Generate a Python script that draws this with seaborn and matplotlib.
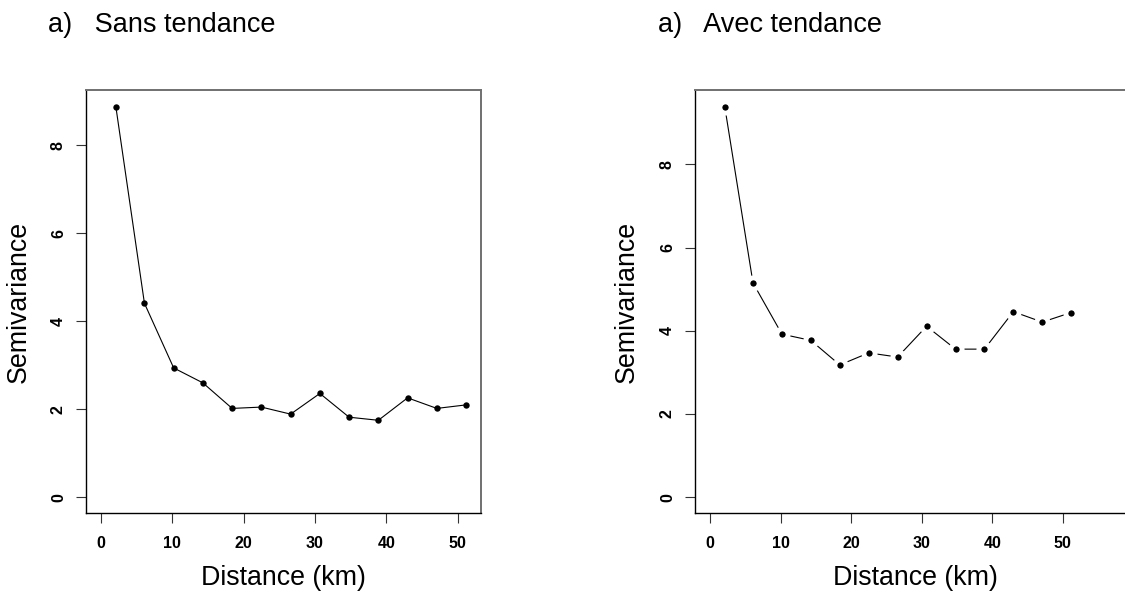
import numpy as np
import pandas as pd
import matplotlib
matplotlib.use('Agg')
import matplotlib.pyplot as plt
import seaborn as sns

# semivariogramme empirique, lag en km
lag_km = [2.1, 6.1, 10.2, 14.3, 18.4, 22.5, 26.6, 30.7, 34.8, 38.9, 43.0, 47.1, 51.2]
semivar_sans = [8.87, 4.41, 2.94, 2.60, 2.02, 2.05, 1.89, 2.36, 1.82, 1.75, 2.26, 2.02, 2.10]
semivar_avec = [9.38, 5.15, 3.92, 3.77, 3.18, 3.47, 3.37, 4.11, 3.56, 3.56, 4.46, 4.21, 4.44]
titles = ['a)   Sans tendance', 'a)   Avec tendance']
x_ticks = [0, 10, 20, 30, 40, 50]
y_ticks = [0, 2, 4, 6, 8]

sns.set_theme(style='white')
plt.rcParams['font.family'] = ['Liberation Sans', 'DejaVu Sans']
plt.rcParams['text.color'] = 'black'
plt.rcParams['axes.labelcolor'] = 'black'
plt.rcParams['xtick.color'] = 'black'
plt.rcParams['ytick.color'] = 'black'

W, H = 1125, 594
fig = plt.figure(figsize=(W / 100, H / 100), dpi=100)

ax1 = fig.add_axes([86.3 / W, 1 - 513.3 / H, 394.4 / W, 423 / H])
ax2 = fig.add_axes([695.3 / W, 1 - 513.3 / H, 440 / W, 423 / H])

df1 = pd.DataFrame({'dist': lag_km, 'sv': semivar_sans})
df2 = pd.DataFrame({'dist': lag_km, 'sv': semivar_avec})

# type="o" a gauche
sns.lineplot(data=df1, x='dist', y='sv', ax=ax1, color='black', linewidth=0.8,
             marker='o', markersize=4.6, markeredgewidth=0, markerfacecolor='black')
# type="b" a droite : trou autour des points
sns.lineplot(data=df2, x='dist', y='sv', ax=ax2, color='black', linewidth=0.8,
             marker='o', markersize=8.1, markeredgewidth=3.5,
             markerfacecolor='black', markeredgecolor='white')

ax1.set_xlim(-2.05, 53.25)
ax1.set_ylim(-0.364, 9.25)
ax2.set_xlim(-2.08, (1135 - 710) / 7.05)
ax2.set_ylim(-0.385, 9.78)

for ax, ylab_x in [(ax1, -0.1377), (ax2, -0.126)]:
    ax.set_xticks(x_ticks)
    ax.set_yticks(y_ticks)
    ax.set_xticklabels([str(t) for t in x_ticks], fontweight='bold', fontsize=11.5)
    ax.set_yticklabels([str(t) for t in y_ticks], fontweight='bold', fontsize=11.5,
                       rotation=90, va='center')
    ax.tick_params(axis='both', which='major', direction='out', length=7.2, width=0.8,
                   color='#333333', bottom=True, left=True)
    ax.tick_params(axis='x', pad=9)
    ax.tick_params(axis='y', pad=7.5)
    ax.set_xlabel('Distance (km)', fontsize=19.3)
    ax.set_ylabel('Semivariance', fontsize=19.3)
    ax.xaxis.set_label_coords(0.5, -0.122)
    ax.yaxis.set_label_coords(ylab_x, 0.5)
    for side in ['left', 'bottom']:
        ax.spines[side].set_color('black')
        ax.spines[side].set_linewidth(1.0)
    for side in ['top', 'right']:
        ax.spines[side].set_color('#707070')
        ax.spines[side].set_linewidth(1.4)

fig.text(48 / W, 1 - 31.5 / H, titles[0], fontsize=19.5, va='baseline', ha='left')
fig.text(657.7 / W, 1 - 31.5 / H, titles[1], fontsize=19.5, va='baseline', ha='left')

fig.savefig('out.png', dpi=100)
